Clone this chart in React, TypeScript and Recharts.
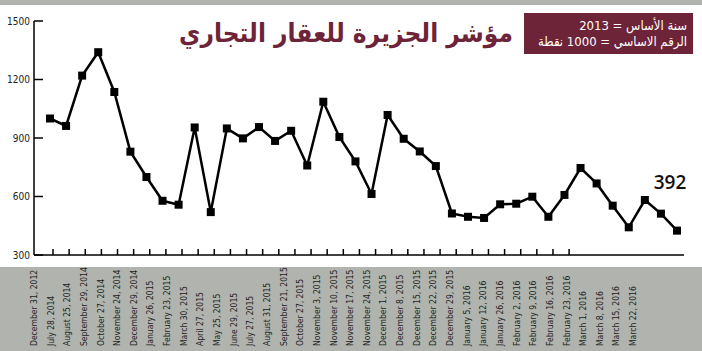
import { LineChart, Line, XAxis, YAxis, LabelList } from "recharts";

// weekly index values, left to right
const indexValues = [
  1000, 962, 1220, 1340, 1136, 830, 700, 578, 558, 954, 520, 949, 898, 956,
  885, 937, 759, 1086, 905, 780, 613, 1018, 896, 831, 756, 513, 496, 490, 560,
  563, 599, 496, 608, 746, 667, 553, 442, 582, 512, 425,
];

const dateLabels = [
  "December 31, 2012",
  "July 28, 2014",
  "August 25, 2014",
  "September 29, 2014",
  "October 27, 2014",
  "November 24, 2014",
  "December 29, 2014",
  "January 26, 2015",
  "February 23, 2015",
  "March 30, 2015",
  "April 27, 2015",
  "May 25, 2015",
  "June 29, 2015",
  "July 27, 2015",
  "August 31, 2015",
  "September 21, 2015",
  "October 27, 2015",
  "November 3, 2015",
  "November 10, 2015",
  "November 17, 2015",
  "November 24, 2015",
  "December 1, 2015",
  "December 8, 2015",
  "December 15, 2015",
  "December 22, 2015",
  "December 29, 2015",
  "January 5, 2016",
  "January 12, 2016",
  "January 26, 2016",
  "February 2, 2016",
  "February 9, 2016",
  "February 16, 2016",
  "February 23, 2016",
  "March 1, 2016",
  "March 8, 2016",
  "March 15, 2016",
  "March 22, 2016",
];

const yTicks = [300, 600, 900, 1200, 1500];
const tickMarkCount = 33;
const lastLabel = "392";
const title = "مؤشر الجزيرة للعقار التجاري";
const noteLines = ["سنة الأساس = 2013", "الرقم الاساسي = 1000 نقطة"];

const MAROON = "#6d2438";
const BAND = "#b1b4ae";
const narrow = '"Liberation Sans Narrow", "DejaVu Sans Condensed", sans-serif';

const data = indexValues.map((v, i) => ({ i, v }));
const markTicks = Array.from({ length: tickMarkCount }, (_, i) => i);
const labelTicks = dateLabels.map((_, i) => i);

const SquareDot = (props: any) => {
  const { cx, cy } = props;
  if (cx == null || cy == null) return null;
  return <rect x={cx - 4} y={cy - 4} width={8} height={8} fill="#000" />;
};

const YTick = (props: any) => {
  const { x, y, payload } = props;
  return (
    <g>
      <line x1={x} y1={y} x2={x + 9} y2={y} stroke="#000" strokeWidth={1.5} />
      <text x={x - 4} y={y + 3.5} textAnchor="end" fontSize={10} fontFamily={narrow} fill="#222">
        {payload.value}
      </text>
    </g>
  );
};

const MarkTick = (props: any) => {
  const { x, y } = props;
  return <line x1={x} y1={y} x2={x} y2={y - 6} stroke="#000" strokeWidth={1.5} />;
};

const DateTick = (props: any) => {
  const { x, y, payload } = props;
  const ty = y + 85;
  return (
    <text
      x={x + 3}
      y={ty}
      transform={`rotate(-90, ${x + 3}, ${ty})`}
      textAnchor="start"
      fontSize={8.5}
      fontFamily={narrow}
      fill="#222"
    >
      {dateLabels[payload.value]}
    </text>
  );
};

const LastValueLabel = (props: any) => {
  const { x, y, index } = props;
  if (index !== indexValues.length - 1) return null;
  return (
    <text x={x - 7} y={y - 42} textAnchor="middle" fontSize={19} fontWeight={600} fontFamily='"Open Sans", sans-serif' fill="#111">
      {lastLabel}
    </text>
  );
};

export default function App() {
  return (
    <div style={{ position: "absolute", left: 0, top: 0, width: 702, height: 351, background: "#fff", overflow: "hidden" }}>
      <div style={{ position: "absolute", left: 0, top: 0, width: 702, height: 5, background: BAND }} />
      <div style={{ position: "absolute", left: 0, top: 267, width: 702, height: 84, background: BAND }} />

      <div
        dir="rtl"
        style={{
          position: "absolute",
          right: 189,
          top: 16,
          fontFamily: '"DejaVu Sans Condensed", "DejaVu Sans", sans-serif',
          fontWeight: "bold",
          fontSize: 26,
          lineHeight: "34px",
          color: MAROON,
          whiteSpace: "nowrap",
        }}
      >
        {title}
      </div>

      <div
        dir="rtl"
        style={{
          position: "absolute",
          left: 524,
          top: 13,
          width: 169,
          height: 41,
          background: MAROON,
          color: "#fff",
          fontFamily: '"DejaVu Sans Condensed", "DejaVu Sans", sans-serif',
          fontSize: 13,
          lineHeight: "16px",
          paddingRight: 6,
          paddingTop: 5,
          boxSizing: "border-box",
          whiteSpace: "nowrap",
        }}
      >
        {noteLines.map((t) => (
          <div key={t}>{t}</div>
        ))}
      </div>

      <div style={{ position: "absolute", left: 0, top: 0 }}>
        <LineChart width={702} height={351} data={data} margin={{ top: 21, right: 18, left: 0, bottom: 0 }}>
          <XAxis xAxisId="pts" dataKey="i" type="number" domain={[0, indexValues.length - 1]} padding={{ left: 16, right: 7 }} hide />
          <XAxis
            xAxisId="axis1"
            type="number"
            domain={[0, tickMarkCount - 1]}
            ticks={markTicks}
            allowDataOverflow
            padding={{ left: 19, right: 2 }}
            axisLine={{ stroke: "#000", strokeWidth: 1.5 }}
            tickLine={false}
            tickSize={0}
            tickMargin={0}
            tick={<MarkTick />}
            height={6}
            interval={0}
          />
          <XAxis
            xAxisId="axis2"
            type="number"
            domain={[0, dateLabels.length - 1]}
            ticks={labelTicks}
            allowDataOverflow
            padding={{ left: 0, right: 1 }}
            axisLine={false}
            tickLine={false}
            tickSize={0}
            tickMargin={0}
            tick={<DateTick />}
            height={90}
            interval={0}
          />
          <YAxis
            width={34}
            domain={[300, 1500]}
            ticks={yTicks}
            axisLine={{ stroke: "#000", strokeWidth: 1.5 }}
            tickLine={false}
            tickSize={0}
            tickMargin={0}
            tick={<YTick />}
            interval={0}
          />
          <Line
            xAxisId="pts"
            dataKey="v"
            type="linear"
            stroke="#000"
            strokeWidth={2.5}
            dot={<SquareDot />}
            activeDot={false}
            isAnimationActive={false}
          >
            <LabelList dataKey="v" content={<LastValueLabel />} />
          </Line>
        </LineChart>
      </div>
    </div>
  );
}
